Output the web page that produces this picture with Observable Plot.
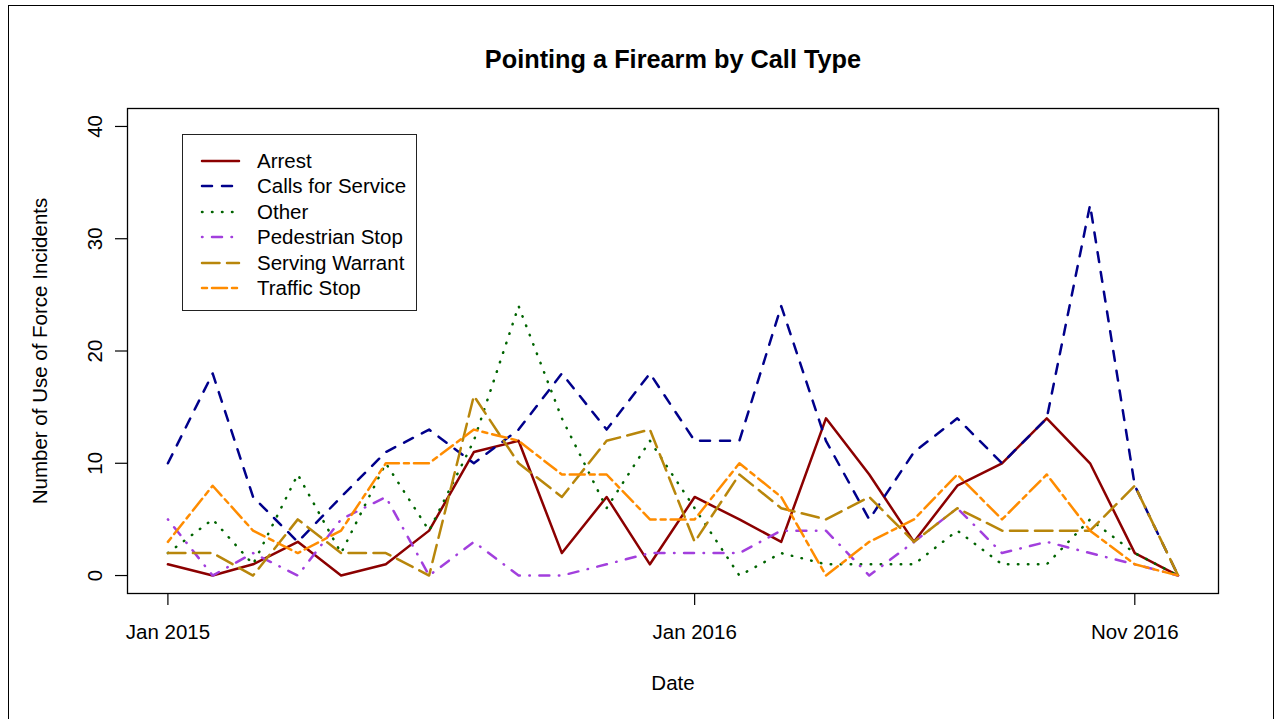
<!DOCTYPE html>
<html>
<head>
<meta charset="utf-8">
<script src="https://cdn.jsdelivr.net/npm/d3@7"></script>
<script src="https://cdn.jsdelivr.net/npm/@observablehq/plot@0.6"></script>
<style>
  html, body { margin: 0; padding: 0; background: #fff; width: 1280px; height: 719px; overflow: hidden; }
  body { position: relative; font-family: "Liberation Sans", Arial, sans-serif; }
  #outer { position: absolute; left: 8px; top: 5px; width: 1266px; height: 730px; border: 1.5px solid #000; box-sizing: border-box; }
  #chart { position: absolute; left: 0; top: 0; }
  #title { position: absolute; left: 0; width: 1346px; top: 44px; text-align: center; font-weight: bold; font-size: 25.3px; line-height: 30px; color: #000; }
  #legend { position: absolute; left: 182px; top: 134px; width: 235px; height: 177px; border: 1.5px solid #222; box-sizing: border-box; background: #fff; }
  .row { position: absolute; left: 0; height: 26px; width: 230px; }
  .row svg { position: absolute; left: 14px; top: 0; }
  .row span { position: absolute; left: 74px; top: 0; font-size: 20.5px; line-height: 26px; color: #000; white-space: nowrap; }
</style>
</head>
<body>
<div id="outer"></div>
<div id="chart"></div>
<div id="title">Pointing a Firearm by Call Type</div>
<div id="legend"></div>
<script>
// ---- data ----
const months = ["2015-01","2015-02","2015-03","2015-04","2015-05","2015-06","2015-07","2015-08","2015-09","2015-10","2015-11","2015-12",
                "2016-01","2016-02","2016-03","2016-04","2016-05","2016-06","2016-07","2016-08","2016-09","2016-10","2016-11","2016-12"];
const seriesNames = ["Arrest","Calls for Service","Other","Pedestrian Stop","Serving Warrant","Traffic Stop"];
const arrest   = [1,0,1,3,0,1,4,11,12,2,7,1,7,5,3,14,9,3,8,10,14,10,2,0];
const calls    = [10,18,7,3,7,11,13,10,13,18,13,18,12,12,24,12,5,11,14,10,14,33,8,0];
const other    = [2,5,1,9,2,10,4,12,24,14,6,12,6,0,2,1,1,1,4,1,1,5,2,0];
const pedestrian = [5,0,2,0,5,7,0,3,0,0,1,2,2,2,4,4,0,3,6,2,3,2,1,0];
const warrant  = [2,2,0,5,2,2,0,16,10,7,12,13,3,9,6,5,7,3,6,4,4,4,8,0];
const traffic  = [3,8,4,2,4,10,10,13,12,9,9,5,5,10,7,0,3,5,9,5,9,4,1,0];
const xTickMonths = ["2015-01","2016-01","2016-11"];
const xTickLabels = ["Jan 2015","Jan 2016","Nov 2016"];
const yTicks = [0,10,20,30,40];

// ---- styles ----
const colors = ["#8B0000","#00008B","#006400","#A23FDD","#B8860B","#FF8C00"];
const dashes = ["none","10,10","0.5,9.5","0.5,9.5,10,9.5","17.5,7.5","5,5,15,5"];

const toDate = s => new Date(s + "-01T00:00:00Z");
const values = [arrest, calls, other, pedestrian, warrant, traffic];
const tables = values.map((vals, k) => vals.map((v, i) => ({date: toDate(months[i]), value: v, series: seriesNames[k]})));
const tickDates = xTickMonths.map(toDate);

const font = "'Liberation Sans', Arial, sans-serif";
const marks = [
  Plot.frame({stroke: "#000", strokeWidth: 1.3}),
  Plot.axisY(yTicks, {tickSize: 12, tickFormat: () => "", label: null, stroke: "#000", strokeWidth: 1.2}),
  Plot.text(yTicks, {y: d => d, text: d => String(d), frameAnchor: "left", dx: -32, rotate: -90, lineAnchor: "middle", textAnchor: "middle", fontSize: 20.5, fill: "#000"}),
  Plot.axisX(tickDates, {tickSize: 12, tickFormat: () => "", label: null, stroke: "#000", strokeWidth: 1.2}),
  Plot.text(tickDates, {x: d => d, text: (d, i) => xTickLabels[i], frameAnchor: "bottom", dy: 39, lineAnchor: "middle", fontSize: 20.5, fill: "#000"}),
  Plot.text(["Date"], {text: d => d, frameAnchor: "bottom", dy: 90, lineAnchor: "middle", fontSize: 20.5, fill: "#000"}),
  Plot.text(["Number of Use of Force Incidents"], {text: d => d, frameAnchor: "left", dx: -87, rotate: -90, lineAnchor: "middle", textAnchor: "middle", fontSize: 20.5, fill: "#000"})
];
tables.forEach((t, k) => {
  marks.push(Plot.line(t, {x: "date", y: "value", stroke: colors[k], strokeWidth: 2.5, strokeDasharray: dashes[k], strokeLinecap: "round", strokeLinejoin: "round"}));
});

const chart = Plot.plot({
  width: 1280,
  height: 719,
  marginTop: 108,
  marginBottom: 126,
  marginLeft: 127,
  marginRight: 62,
  style: {fontFamily: font, fontSize: "20.5px", background: "transparent", color: "#000"},
  x: {type: "utc", domain: [new Date(Date.UTC(2014, 11, 4)), new Date(Date.UTC(2016, 11, 29))], axis: null, label: null},
  y: {domain: [-1.6, 41.6], axis: null, label: null},
  marks
});
document.getElementById("chart").appendChild(chart);

// ---- legend ----
const legend = document.getElementById("legend");
seriesNames.forEach((name, k) => {
  const row = document.createElement("div");
  row.className = "row";
  row.style.top = (13 + k * 25.4) + "px";
  const ns = "http://www.w3.org/2000/svg";
  const svg = document.createElementNS(ns, "svg");
  svg.setAttribute("width", "50"); svg.setAttribute("height", "26");
  const ln = document.createElementNS(ns, "line");
  ln.setAttribute("x1", "5"); ln.setAttribute("x2", "42");
  ln.setAttribute("y1", "13"); ln.setAttribute("y2", "13");
  ln.setAttribute("stroke", colors[k]); ln.setAttribute("stroke-width", "2.5");
  ln.setAttribute("stroke-linecap", "round");
  if (dashes[k] !== "none") ln.setAttribute("stroke-dasharray", dashes[k]);
  svg.appendChild(ln);
  const sp = document.createElement("span");
  sp.textContent = name;
  row.appendChild(svg); row.appendChild(sp);
  legend.appendChild(row);
});
</script>
</body>
</html>
